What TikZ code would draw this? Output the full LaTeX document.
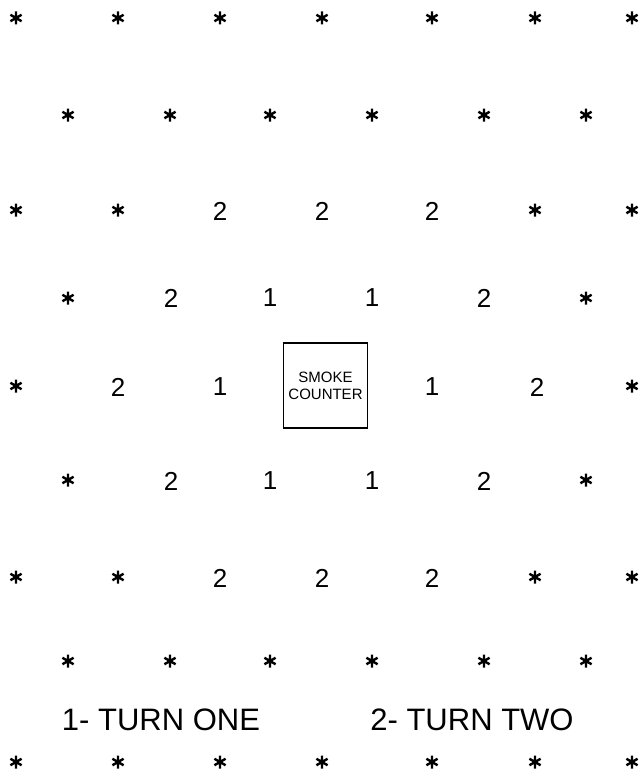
\documentclass[tikz,border=0pt]{standalone}
\usepackage{fontspec}
\setmainfont{Liberation Sans}
\usepackage{tikz}
\usetikzlibrary{positioning}

\tikzset{
    ast/.pic={\draw[line width=2.4pt] (0,-6.5) -- (0,6.5) (-5.6,-3.25) -- (5.6,3.25) (-5.6,3.25) -- (5.6,-3.25);},
    hexnum/.style={font=\fontsize{26}{26}\selectfont, inner sep=0pt},
    turnlbl/.style={font=\fontsize{31}{31}\selectfont, inner sep=0pt},
}

\begin{document}
\begin{tikzpicture}[x=1pt, y=-1pt]

\useasboundingbox (0,0) rectangle (641,776);

% full rows of stars (top and bottom)
\foreach \y in {18,762}
    \foreach \x in {16,118,220,322,432,535,632}
        \pic at (\x,\y) {ast};
\foreach \y in {115,661}
    \foreach \x in {68,170,270,372,484,586}
        \pic at (\x,\y) {ast};

% stars round the ring of numbers
\foreach \x/\y in {16/210,118/210,535/210,632/210,
                   68/298,586/298,
                   16/386,632/386,
                   68/480,586/480,
                   16/577,118/577,535/577,632/577}
    \pic at (\x,\y) {ast};

% turn-two ring, top and bottom
\foreach \x [count=\i] in {220,322,432} {
    \node[hexnum] (ta\i) at (\x,211) {2};
    \node[hexnum] (tb\i) at (\x,578) {2};
}

% rows next to the counter
\node[hexnum] (ua1) at (171,298) {2};
\node[hexnum] (ua2) at (270,298) {1};
\node[hexnum] (ua3) at (372,298) {1};
\node[hexnum] (ua4) at (484,298) {2};

\node[hexnum] (m1) at (118,387) {2};
\node[hexnum] (m2) at (220,387) {1};
\node[hexnum] (m3) at (432,387) {1};
\node[hexnum] (m4) at (537,387) {2};

\node[hexnum] (ub1) at (171,481) {2};
\node[hexnum] (ub2) at (270,481) {1};
\node[hexnum] (ub3) at (372,481) {1};
\node[hexnum] (ub4) at (484,481) {2};

% the counter
\node[draw, line width=1.3pt, minimum width=84pt, minimum height=85pt, align=center,
      font=\fontsize{15}{17}\selectfont] (smoke) at (325.5,385.5) {SMOKE\\COUNTER};

% key
\node[turnlbl] (key1) at (161,720) {1- TURN ONE};
\node[turnlbl] (key2) at (472,720) {2- TURN TWO};

\end{tikzpicture}
\end{document}
